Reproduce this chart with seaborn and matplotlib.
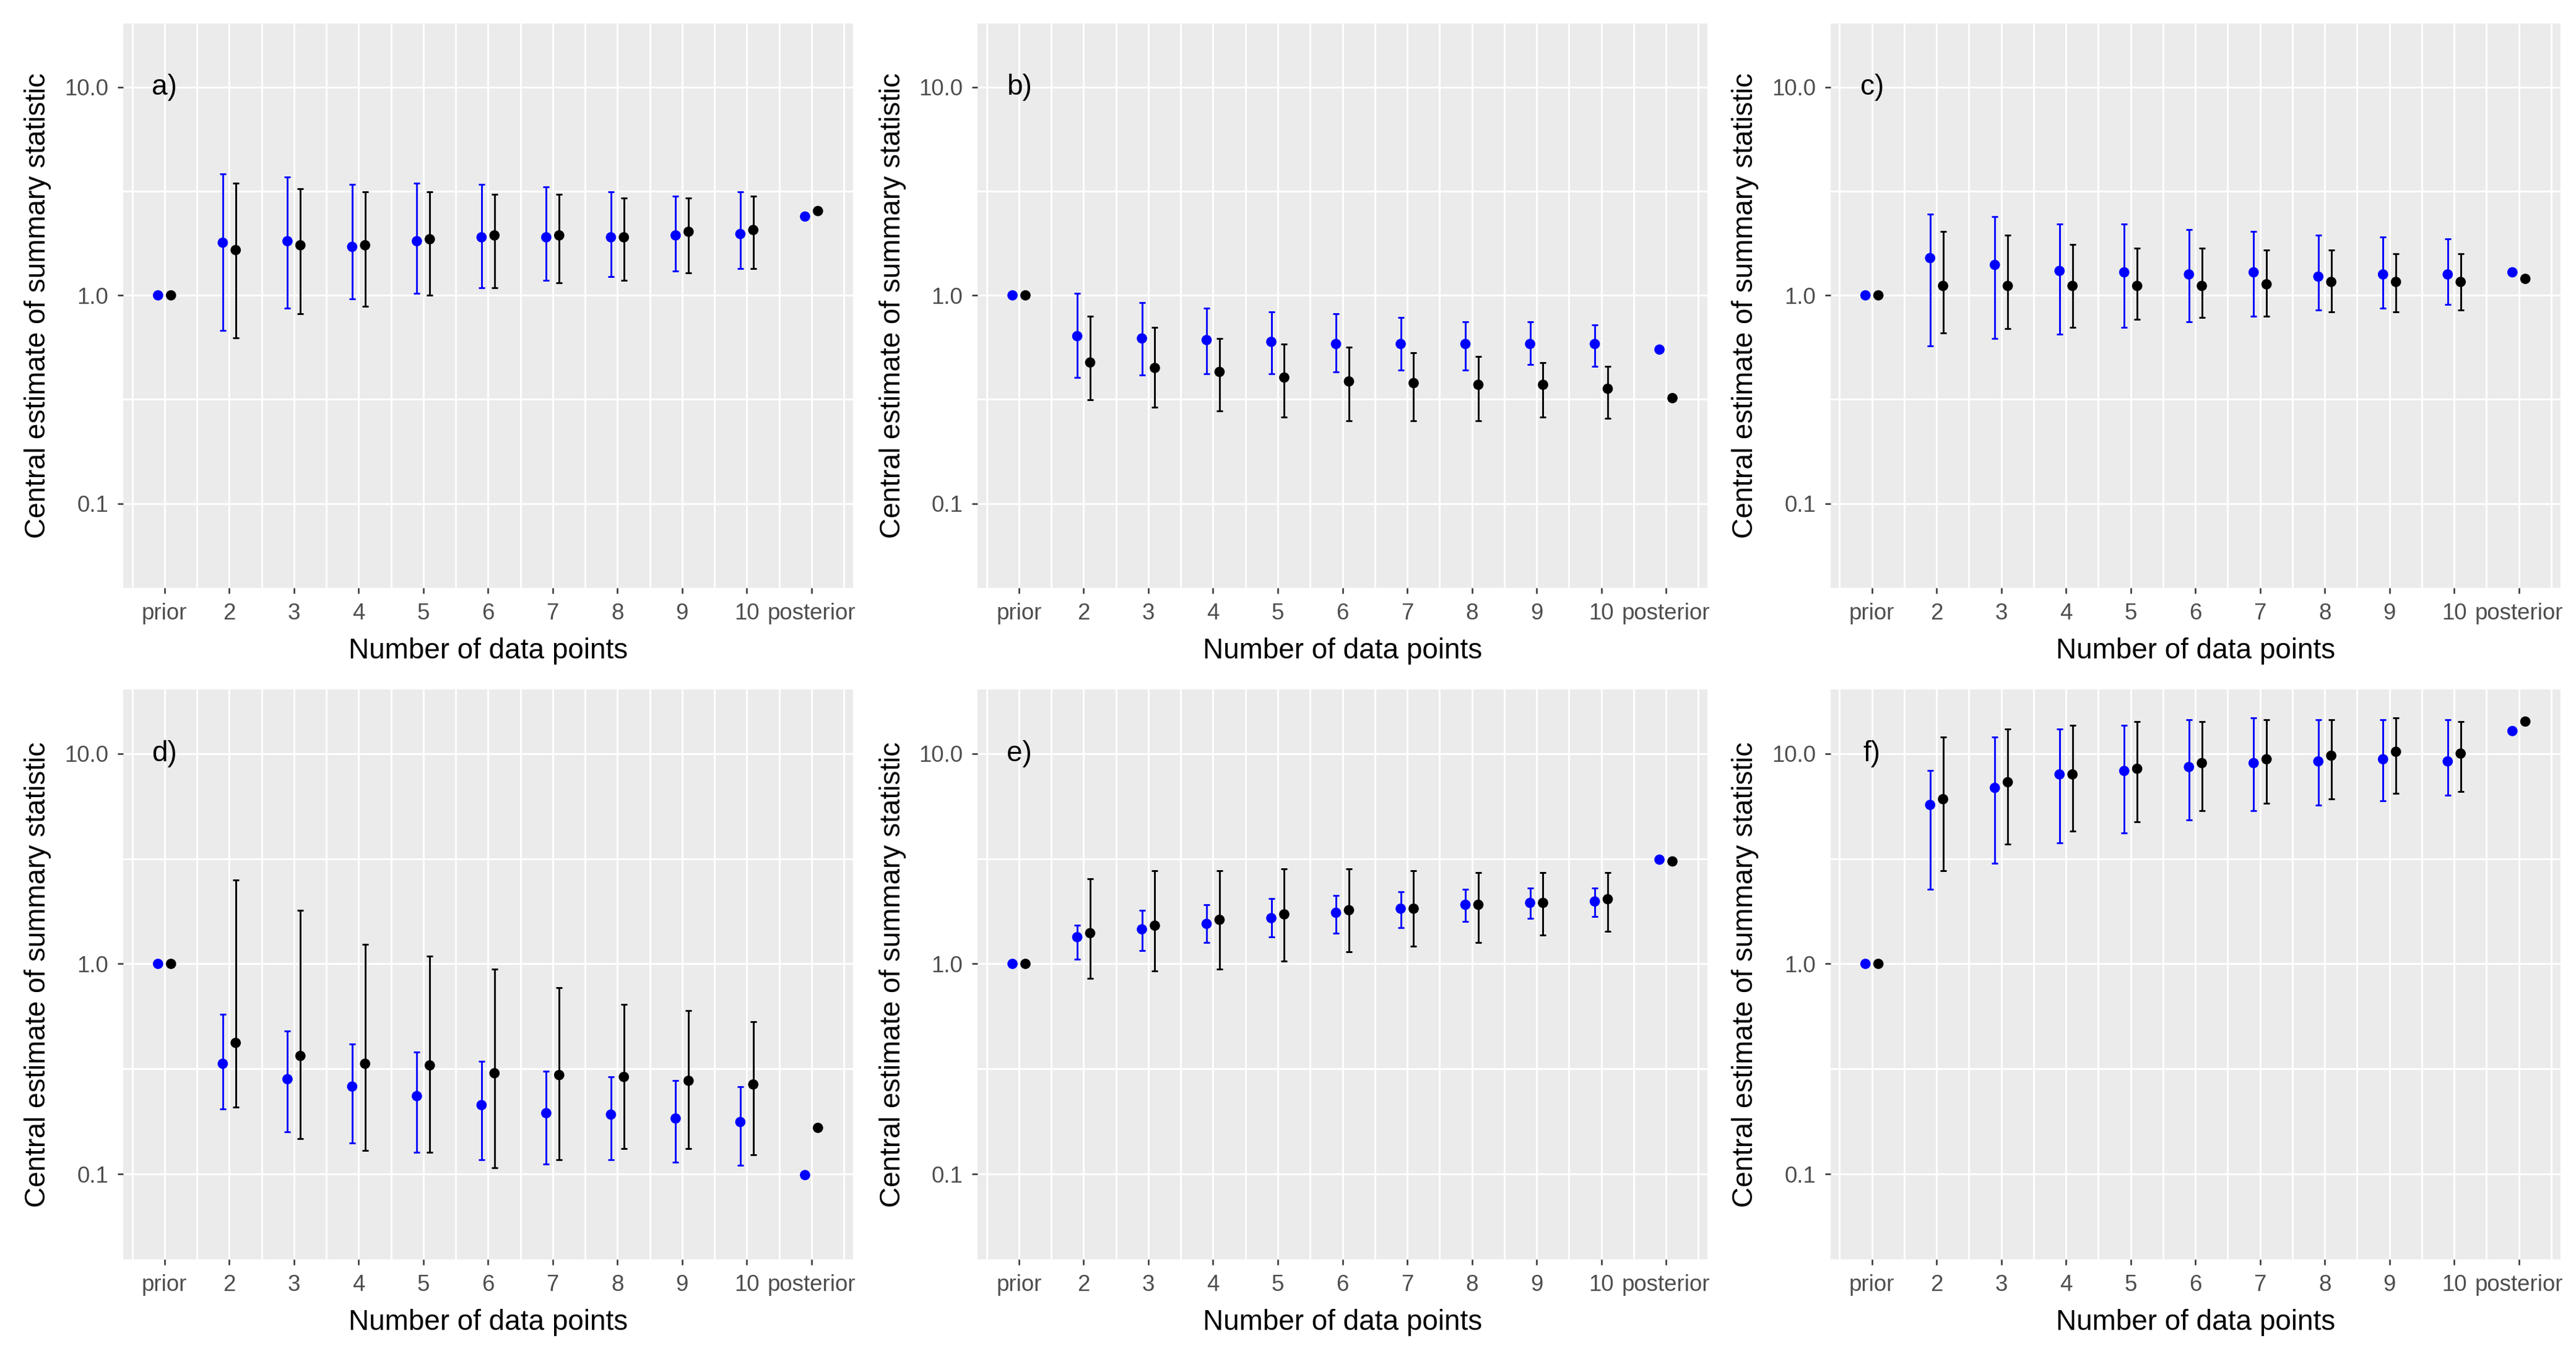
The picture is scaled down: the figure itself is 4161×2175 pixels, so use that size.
import numpy as np
import pandas as pd
import seaborn as sns
import matplotlib.pyplot as plt
from matplotlib.ticker import FixedLocator

nan = np.nan

categories = ["prior", "2", "3", "4", "5", "6", "7", "8", "9", "10", "posterior"]
panel_labels = ["a)", "b)", "c)", "d)", "e)", "f)"]

# panel a
a_blue_est = [1.0, 1.79, 1.82, 1.71, 1.82, 1.90, 1.90, 1.90, 1.94, 1.97, 2.39]
a_blue_low = [nan, 0.677, 0.867, 0.963, 1.02, 1.09, 1.18, 1.23, 1.31, 1.34, nan]
a_blue_high = [nan, 3.84, 3.70, 3.40, 3.46, 3.40, 3.32, 3.13, 3.00, 3.13, nan]
a_black_est = [1.0, 1.65, 1.74, 1.74, 1.86, 1.94, 1.94, 1.90, 2.02, 2.06, 2.54]
a_black_low = [nan, 0.624, 0.815, 0.884, 1.00, 1.09, 1.15, 1.18, 1.28, 1.34, nan]
a_black_high = [nan, 3.46, 3.25, 3.13, 3.13, 3.06, 3.06, 2.93, 2.93, 3.00, nan]

# panel b
b_blue_est = [1.0, 0.637, 0.621, 0.610, 0.598, 0.584, 0.584, 0.584, 0.584, 0.584, 0.549]
b_blue_low = [nan, 0.403, 0.413, 0.421, 0.421, 0.429, 0.439, 0.439, 0.467, 0.456, nan]
b_blue_high = [nan, 1.02, 0.922, 0.867, 0.830, 0.815, 0.781, 0.748, 0.748, 0.720, nan]
b_black_est = [1.0, 0.476, 0.448, 0.429, 0.403, 0.386, 0.379, 0.372, 0.372, 0.356, 0.321]
b_black_low = [nan, 0.315, 0.290, 0.278, 0.261, 0.250, 0.250, 0.250, 0.261, 0.257, nan]
b_black_high = [nan, 0.796, 0.703, 0.621, 0.584, 0.562, 0.529, 0.507, 0.476, 0.456, nan]

# panel c
c_blue_est = [1.0, 1.51, 1.40, 1.31, 1.29, 1.26, 1.29, 1.23, 1.26, 1.26, 1.29]
c_blue_low = [nan, 0.573, 0.621, 0.649, 0.703, 0.748, 0.796, 0.851, 0.867, 0.901, nan]
c_blue_high = [nan, 2.45, 2.39, 2.20, 2.20, 2.07, 2.02, 1.95, 1.90, 1.87, nan]
c_black_est = [1.0, 1.11, 1.11, 1.11, 1.11, 1.11, 1.13, 1.16, 1.16, 1.16, 1.20]
c_black_low = [nan, 0.661, 0.690, 0.703, 0.766, 0.781, 0.796, 0.830, 0.830, 0.851, nan]
c_black_high = [nan, 2.02, 1.94, 1.75, 1.68, 1.68, 1.65, 1.65, 1.58, 1.58, nan]

# panel d
d_blue_est = [1.0, 0.335, 0.283, 0.261, 0.235, 0.213, 0.195, 0.192, 0.184, 0.177, 0.099]
d_blue_low = [nan, 0.204, 0.159, 0.141, 0.127, 0.117, 0.112, 0.117, 0.114, 0.110, nan]
d_blue_high = [nan, 0.576, 0.478, 0.415, 0.381, 0.343, 0.309, 0.290, 0.278, 0.261, nan]
d_black_est = [1.0, 0.421, 0.365, 0.335, 0.329, 0.302, 0.296, 0.290, 0.278, 0.267, 0.166]
d_black_low = [nan, 0.209, 0.147, 0.130, 0.127, 0.107, 0.117, 0.132, 0.132, 0.124, nan]
d_black_high = [nan, 2.50, 1.80, 1.24, 1.09, 0.944, 0.769, 0.640, 0.601, 0.531, nan]

# panel e
e_blue_est = [1.0, 1.34, 1.46, 1.55, 1.65, 1.75, 1.83, 1.91, 1.95, 1.98, 3.13]
e_blue_low = [nan, 1.05, 1.16, 1.26, 1.34, 1.40, 1.49, 1.59, 1.65, 1.68, nan]
e_blue_high = [nan, 1.53, 1.80, 1.91, 2.04, 2.12, 2.20, 2.26, 2.30, 2.30, nan]
e_black_est = [1.0, 1.40, 1.52, 1.62, 1.72, 1.80, 1.83, 1.91, 1.95, 2.03, 3.07]
e_black_low = [nan, 0.851, 0.927, 0.944, 1.03, 1.14, 1.21, 1.26, 1.37, 1.43, nan]
e_black_high = [nan, 2.54, 2.77, 2.77, 2.82, 2.82, 2.77, 2.72, 2.72, 2.72, nan]

# panel f
f_blue_est = [1.0, 5.70, 6.87, 7.96, 8.27, 8.63, 9.01, 9.18, 9.40, 9.18, 12.8]
f_blue_low = [nan, 2.26, 3.01, 3.77, 4.19, 4.83, 5.36, 5.70, 5.96, 6.34, nan]
f_blue_high = [nan, 8.30, 12.0, 13.1, 13.6, 14.5, 14.8, 14.5, 14.5, 14.5, nan]
f_black_est = [1.0, 6.07, 7.31, 7.96, 8.47, 9.01, 9.40, 9.77, 10.2, 10.0, 14.2]
f_black_low = [nan, 2.77, 3.70, 4.27, 4.74, 5.36, 5.81, 6.07, 6.45, 6.58, nan]
f_black_high = [nan, 12.0, 13.1, 13.6, 14.2, 14.2, 14.5, 14.5, 14.8, 14.2, nan]

panels = [
    (a_blue_est, a_blue_low, a_blue_high, a_black_est, a_black_low, a_black_high),
    (b_blue_est, b_blue_low, b_blue_high, b_black_est, b_black_low, b_black_high),
    (c_blue_est, c_blue_low, c_blue_high, c_black_est, c_black_low, c_black_high),
    (d_blue_est, d_blue_low, d_blue_high, d_black_est, d_black_low, d_black_high),
    (e_blue_est, e_blue_low, e_blue_high, e_black_est, e_black_low, e_black_high),
    (f_blue_est, f_blue_low, f_blue_high, f_black_est, f_black_low, f_black_high),
]

COLORS = {"blue": "#0000FF", "black": "#000000"}
DODGE = 0.1
GRID_LW = 0.7

sns.set_theme(style="darkgrid", rc={
    "axes.facecolor": "#EBEBEB",
    "grid.color": "white",
    "grid.linewidth": GRID_LW,
})
plt.rcParams["font.family"] = ["Liberation Sans", "DejaVu Sans"]

fig = plt.figure(figsize=(4161 / 300, 2175 / 300), dpi=300)

lefts = [0.0478, 0.3795, 0.7106]
width = 0.2833
rows = [(0.5632, 0.4193), (0.0644, 0.4234)]


def make_frame(vals):
    b_est, b_lo, b_hi, k_est, k_lo, k_hi = vals
    pos = np.arange(len(categories))
    frames = []
    for name, est, lo, hi, off in [("blue", b_est, b_lo, b_hi, -DODGE),
                                   ("black", k_est, k_lo, k_hi, DODGE)]:
        frames.append(pd.DataFrame({
            "category": categories,
            "xpos": pos + off,
            "est": est,
            "low": lo,
            "high": hi,
            "series": name,
        }))
    return pd.concat(frames, ignore_index=True)


for i, vals in enumerate(panels):
    r, c = divmod(i, 3)
    bottom, height = rows[r]
    ax = fig.add_axes([lefts[c], bottom, width, height])
    df = make_frame(vals)

    # error bars first, points on top
    for name, sub in df.groupby("series"):
        sub = sub.dropna(subset=["low", "high"])
        ax.errorbar(sub["xpos"], sub["est"],
                    yerr=[sub["est"] - sub["low"], sub["high"] - sub["est"]],
                    fmt="none", ecolor=COLORS[name], elinewidth=0.7,
                    capsize=1.1, capthick=0.7, zorder=2)

    sns.scatterplot(data=df, x="xpos", y="est", hue="series", palette=COLORS,
                    s=16, linewidth=0, legend=False, ax=ax, zorder=3)

    ax.set_yscale("log")
    ax.set_ylim(10 ** -1.405, 10 ** 1.305)
    ax.set_xlim(-0.64, 10.64)

    ax.yaxis.set_major_locator(FixedLocator([0.1, 1.0, 10.0]))
    ax.yaxis.set_minor_locator(FixedLocator([10 ** -0.5, 10 ** 0.5]))
    ax.set_yticklabels(["0.1", "1.0", "10.0"])
    ax.xaxis.set_major_locator(FixedLocator(np.arange(len(categories))))
    ax.xaxis.set_minor_locator(FixedLocator(np.arange(len(categories) + 1) - 0.5))
    ax.set_xticklabels(categories)

    ax.grid(which="both", color="white", linewidth=GRID_LW)
    ax.tick_params(which="major", length=2.2, width=0.6, color="#333333",
                   labelsize=8.8, labelcolor="#4D4D4D", pad=3.5, bottom=True, left=True)
    ax.tick_params(which="minor", length=0, bottom=False, left=False)
    for s in ax.spines.values():
        s.set_visible(False)

    ax.set_xlabel("Number of data points", fontsize=11, color="black", labelpad=5)
    ax.set_ylabel("Central estimate of summary statistic", fontsize=11, color="black", labelpad=5)

    ax.text(0, 10.0, panel_labels[i], fontsize=11, color="black",
            ha="center", va="center")

fig.savefig("out.png", dpi=300, facecolor="white")
